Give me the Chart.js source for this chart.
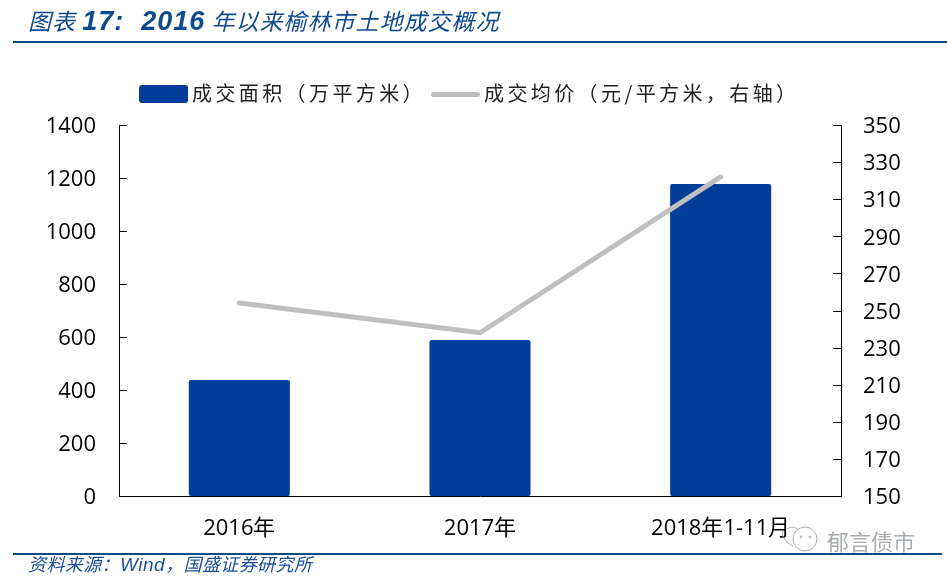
<!DOCTYPE html>
<html lang="zh-CN">
<head>
  <meta charset="UTF-8" />
  <title>图表17</title>
  <script src="https://cdn.jsdelivr.net/npm/chart.js"></script>
  <style>
    html, body { margin: 0; padding: 0; background: #fff; }
    #wrap { position: relative; width: 947px; height: 580px; overflow: hidden; font-family: "Noto Sans CJK SC", sans-serif; }
    #wrap canvas { position: absolute; left: 0; top: 0; }
    .abs { position: absolute; white-space: nowrap; }
    #title { left: 28px; top: 3px; font-size: 23px; line-height: 34px; font-style: italic; color: #0f4a8f; letter-spacing: 1px; }
    #title b { font-family: "Liberation Sans", sans-serif; font-size: 27px; }
    .rule { position: absolute; height: 2px; background: #0f4a85; }
    #source { left: 28px; top: 551px; font-size: 18px; line-height: 25px; font-style: italic; color: #1a4f98; letter-spacing: 0.4px; }
    #source span { font-family: "Liberation Sans", sans-serif; font-size: 19px; letter-spacing: 0.5px; }
    .legend-text { top: 78px; font-size: 20px; line-height: 30px; letter-spacing: 3.4px; color: #222; }
    #mark { left: 827px; top: 523px; font-size: 22px; line-height: 34px; color: #a9adb0; }
  </style>
</head>
<body>
<div id="wrap">
  <canvas id="chart" width="947" height="580"></canvas>

  <div class="abs" id="title">图表 <b>17:&nbsp; 2016</b> 年以来榆林市土地成交概况</div>
  <div class="rule" style="left:13px; top:41px; width:934px"></div>

  <div class="abs" style="left:139px; top:85px; width:49px; height:18px; border-radius:3px; background:#023e99"></div>
  <div class="abs legend-text" id="legendBar" style="left:192px"></div>
  <div class="abs" style="left:431px; top:92px; width:49px; height:5px; border-radius:3px; background:#bfbfbf"></div>
  <div class="abs legend-text" id="legendLine" style="left:484px"></div>

  <div class="rule" style="left:13px; top:553px; width:929px"></div>
  <div class="abs" id="source">资料来源：<span>Wind</span>，国盛证券研究所</div>

  <svg class="abs" style="left:780px; top:524px" width="42" height="30" viewBox="0 0 42 30" fill="none" stroke="#a9adb0" stroke-width="1">
    <ellipse cx="25" cy="15" rx="12" ry="12" />
    <path d="M3 7 C1 13 6 19 13 22 M7 5 C11 2 16 3 18 6" />
    <circle cx="21" cy="13" r="1" /><circle cx="30" cy="13" r="1" />
  </svg>
  <div class="abs" id="mark">郁言债市</div>
</div>

<script>
const categories = ['2016年', '2017年', '2018年1-11月'];
const areaName = '成交面积（万平方米）';
const priceName = '成交均价（元/平方米，右轴）';
const areaValues = [438, 589, 1177];
const priceValues = [254, 238, 322];
const leftTicks = [0, 200, 400, 600, 800, 1000, 1200, 1400];
const rightTicks = [150, 170, 190, 210, 230, 250, 270, 290, 310, 330, 350];

document.getElementById('legendBar').textContent = areaName;
document.getElementById('legendLine').textContent = priceName;

const tickFont = { family: '"Open Sans", sans-serif', size: 22 };
const plainNumber = v => String(v);

// ticks point inward on this chart, chart.js only draws them outward
const innerTicks = {
  id: 'innerTicks',
  afterDraw(chart) {
    const { ctx, chartArea, scales } = chart;
    ctx.save();
    ctx.strokeStyle = '#000';
    ctx.lineWidth = 1;
    ctx.beginPath();
    leftTicks.forEach(v => {
      const y = Math.round(scales.y.getPixelForValue(v)) + 0.5;
      ctx.moveTo(chartArea.left, y);
      ctx.lineTo(chartArea.left + 8, y);
    });
    rightTicks.forEach(v => {
      const y = Math.round(scales.y2.getPixelForValue(v)) + 0.5;
      ctx.moveTo(chartArea.right, y);
      ctx.lineTo(chartArea.right - 8, y);
    });
    ctx.stroke();
    ctx.restore();
  }
};

new Chart(document.getElementById('chart'), {
  type: 'bar',
  data: {
    labels: categories,
    datasets: [
      {
        type: 'line',
        label: priceName,
        data: priceValues,
        yAxisID: 'y2',
        borderColor: '#bfbfbf',
        borderWidth: 5,
        borderCapStyle: 'round',
        pointRadius: 0,
        tension: 0,
        order: 1
      },
      {
        label: areaName,
        data: areaValues,
        yAxisID: 'y',
        backgroundColor: '#023e99',
        borderRadius: 2,
        borderSkipped: false,
        barPercentage: 0.42,
        categoryPercentage: 1,
        order: 2
      }
    ]
  },
  options: {
    responsive: false,
    animation: false,
    layout: { padding: { top: 125 } },
    plugins: { legend: { display: false }, tooltip: { enabled: false } },
    scales: {
      x: {
        afterFit: s => { s.height = 84; },
        grid: { display: false },
        border: { color: '#000' },
        ticks: { color: '#000', font: tickFont, padding: 12, maxRotation: 0 }
      },
      y: {
        position: 'left',
        min: 0,
        max: 1400,
        afterFit: s => { s.width = 119; },
        afterBuildTicks: s => { s.ticks = leftTicks.map(value => ({ value })); },
        grid: { display: false },
        border: { color: '#000' },
        ticks: { color: '#000', font: tickFont, padding: 15, labelOffset: 2, callback: plainNumber }
      },
      y2: {
        position: 'right',
        min: 150,
        max: 350,
        afterFit: s => { s.width = 106; },
        afterBuildTicks: s => { s.ticks = rightTicks.map(value => ({ value })); },
        grid: { display: false },
        border: { color: '#000' },
        ticks: { color: '#000', font: tickFont, padding: 14, labelOffset: 2, callback: plainNumber }
      }
    }
  },
  plugins: [innerTicks]
});
</script>
</body>
</html>
